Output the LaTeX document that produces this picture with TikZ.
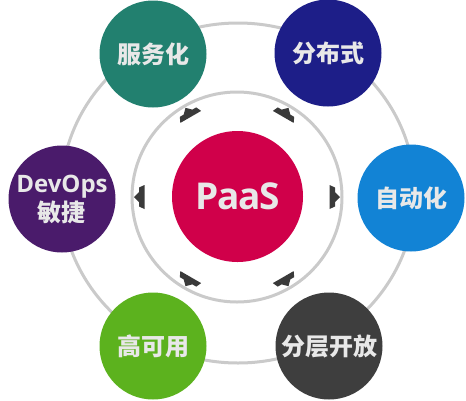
\documentclass[tikz,border=0pt]{standalone}
\usepackage{fontspec}
\setmainfont{Open Sans}
\newfontfamily\hubfont{Open Sans}[LetterSpace=-4]
\newfontfamily\cjk{Noto Sans CJK SC}
\definecolor{ringgray}{HTML}{CACACA}
\definecolor{txtgray}{HTML}{E8E8E8}
\definecolor{cTeal}{HTML}{22806F}
\definecolor{cNavy}{HTML}{1D1E88}
\definecolor{cBlue}{HTML}{1283D5}
\definecolor{cPurple}{HTML}{4A1B6B}
\definecolor{cGreen}{HTML}{5CB21E}
\definecolor{cDark}{HTML}{3E3E3E}
\definecolor{cRed}{HTML}{D0004A}
\definecolor{arrowgray}{HTML}{3A3A3A}
\tikzset{
  ring/.style={draw=ringgray, line width=3pt},
  sat/.style={circle, minimum size=107pt, inner sep=0pt, text=txtgray,
    font=\cjk\bfseries\fontsize{24}{30}\selectfont, align=center},
  hub/.style={circle, minimum size=131pt, inner sep=0pt, fill=cRed, text=txtgray,
    font=\hubfont\bfseries\fontsize{37}{44}\selectfont},
  tip/.style={fill=arrowgray}
}
\begin{document}
\begin{tikzpicture}[x=1pt,y=-1pt]
\useasboundingbox (0,0) rectangle (466,400);
% outer ring
\coordinate (oc) at (238,193);
\draw[ring] (oc) ellipse [x radius=177, y radius=170];
% inner ring
\coordinate (ic) at (237,197);
\draw[ring] (ic) circle [radius=105];
% arrows on the inner ring
\foreach \a in {0,60,120,180,240,300}{
  \begin{scope}[shift={(ic)}, rotate=\a]
    \fill[tip] (92.5,-12) -- (98,-9.5) -- (98,-5) -- (103,0) -- (98,5) -- (98,9.5) -- (92.5,12) -- cycle;
  \end{scope}
}
% hub
\node[hub] (paas) at (237.5,196.5) {PaaS};
% satellites
\node[sat, fill=cTeal]   (fuwu)   at (153,54)  {服务化};
\node[sat, fill=cNavy]   (fenbu)  at (328,53)  {分布式};
\node[sat, fill=cBlue]   (zidong) at (411,198) {自动化};
\node[sat, fill=cPurple, font=\bfseries\fontsize{24}{30}\selectfont] (devops) at (62,199) {DevOps\\[-1pt]{\cjk 敏捷}};
\node[sat, fill=cGreen]  (gaoke)  at (153,346) {高可用};
\node[sat, fill=cDark]   (fenceng) at (329,346) {分层开放};
\end{tikzpicture}
\end{document}
